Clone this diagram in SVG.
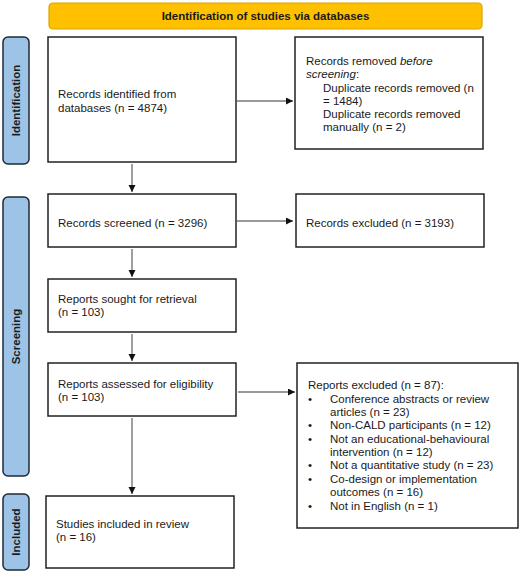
<svg xmlns="http://www.w3.org/2000/svg" width="520" height="573" viewBox="0 0 520 573">
<style>
  .box { fill: #ffffff; stroke: #222222; stroke-width: 1.5; }
  .side { fill: #9DC3E6; stroke: #1F2A36; stroke-width: 1.5; }
  .banner { fill: #FFC000; stroke: #D9A400; stroke-width: 1.2; }
  .t { font-family: "Liberation Sans", Arial, sans-serif; font-size: 11.5px; fill: #1a1a1a; }
  .b { font-family: "Liberation Sans", Arial, sans-serif; font-size: 11.5px; font-weight: bold; fill: #1a1a1a; }
  .conn { stroke: #777777; stroke-width: 1.4; fill: none; }
</style>
<defs>
  <marker id="arrow" markerUnits="userSpaceOnUse" markerWidth="8" markerHeight="8" refX="7" refY="3.5" orient="auto">
    <path d="M0,0 L7,3.5 L0,7 z" fill="#111111"/>
  </marker>
</defs>
<rect width="520" height="573" fill="#ffffff"/>

<g id="banner">
  <rect class="banner" x="49" y="3" width="433" height="26" rx="4"/>
  <text class="b" x="265.5" y="20" text-anchor="middle">Identification of studies via databases</text>
</g>

<g id="label-identification">
  <rect class="side" x="3" y="37" width="26" height="127" rx="5"/>
  <text class="b" transform="translate(20,100.5) rotate(-90)" text-anchor="middle">Identification</text>
</g>
<g id="label-screening">
  <rect class="side" x="3" y="197" width="26" height="279" rx="5"/>
  <text class="b" transform="translate(20,336.5) rotate(-90)" text-anchor="middle">Screening</text>
</g>
<g id="label-included">
  <rect class="side" x="3" y="494" width="26" height="76" rx="5"/>
  <text class="b" transform="translate(20,532) rotate(-90)" text-anchor="middle">Included</text>
</g>

<g id="records-identified">
  <rect class="box" x="48" y="37" width="188" height="125"/>
  <text class="t" x="58" y="98">Records identified from</text>
  <text class="t" x="58" y="112">databases (n = 4874)</text>
</g>

<g id="records-removed">
  <rect class="box" x="295" y="37" width="188" height="112"/>
  <text class="t" x="306" y="65">Records removed <tspan font-style="italic">before</tspan></text>
  <text class="t" x="306" y="78"><tspan font-style="italic">screening</tspan>:</text>
  <text class="t" x="323" y="91.5">Duplicate records removed (n</text>
  <text class="t" x="323" y="104.5">= 1484)</text>
  <text class="t" x="323" y="117.5">Duplicate records removed</text>
  <text class="t" x="323" y="130.5">manually (n = 2)</text>
</g>

<g id="records-screened">
  <rect class="box" x="48" y="194" width="188" height="53"/>
  <text class="t" x="58" y="227">Records screened (n = 3296)</text>
</g>

<g id="records-excluded">
  <rect class="box" x="296" y="194" width="188" height="53"/>
  <text class="t" x="306" y="227">Records excluded (n = 3193)</text>
</g>

<g id="reports-sought">
  <rect class="box" x="48" y="279" width="188" height="53"/>
  <text class="t" x="58" y="303">Reports sought for retrieval</text>
  <text class="t" x="58" y="316">(n = 103)</text>
</g>

<g id="reports-assessed">
  <rect class="box" x="48" y="363" width="188" height="53"/>
  <text class="t" x="58" y="388">Reports assessed for eligibility</text>
  <text class="t" x="58" y="401">(n = 103)</text>
</g>

<g id="reports-excluded">
  <rect class="box" x="297" y="363" width="221" height="165"/>
  <text class="t" x="308" y="389">Reports excluded (n = 87):</text>
  <g class="t">
    <text x="308" y="402.5">•</text>
    <text x="330" y="402.5">Conference abstracts or review</text>
    <text x="330" y="415.5">articles (n = 23)</text>
    <text x="308" y="429">•</text>
    <text x="330" y="429">Non-CALD participants (n = 12)</text>
    <text x="308" y="442.5">•</text>
    <text x="330" y="442.5">Not an educational-behavioural</text>
    <text x="330" y="455.5">intervention (n = 12)</text>
    <text x="308" y="469">•</text>
    <text x="330" y="469">Not a quantitative study (n = 23)</text>
    <text x="308" y="482.5">•</text>
    <text x="330" y="482.5">Co-design or implementation</text>
    <text x="330" y="495.5">outcomes (n = 16)</text>
    <text x="308" y="509.5">•</text>
    <text x="330" y="509.5">Not in English (n = 1)</text>
  </g>
</g>

<g id="studies-included">
  <rect class="box" x="46" y="496" width="188" height="72"/>
  <text class="t" x="56" y="528">Studies included in review</text>
  <text class="t" x="56" y="541">(n = 16)</text>
</g>

<g id="connectors">
  <line class="conn" x1="237" y1="101" x2="293" y2="101" marker-end="url(#arrow)"/>
  <line class="conn" x1="237" y1="221" x2="293" y2="221" marker-end="url(#arrow)"/>
  <line class="conn" x1="238" y1="392" x2="295" y2="392" marker-end="url(#arrow)"/>
  <line class="conn" x1="132" y1="164" x2="132" y2="192" marker-end="url(#arrow)"/>
  <line class="conn" x1="132" y1="249" x2="132" y2="277" marker-end="url(#arrow)"/>
  <line class="conn" x1="132" y1="334" x2="132" y2="361" marker-end="url(#arrow)"/>
  <line class="conn" x1="132" y1="418" x2="132" y2="494" marker-end="url(#arrow)"/>
</g>
</svg>
